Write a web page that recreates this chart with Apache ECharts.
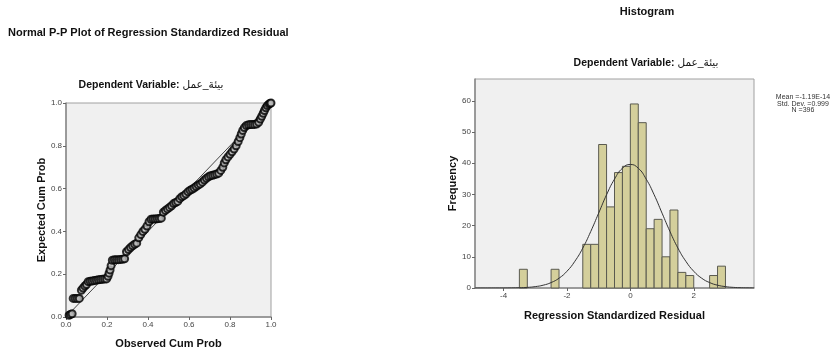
<!DOCTYPE html>
<html><head><meta charset="utf-8">
<script src="https://cdn.jsdelivr.net/npm/echarts@6/dist/echarts.min.js"></script>
<style>html,body{margin:0;padding:0;background:#fff}#c{width:835px;height:354px}</style>
</head><body><div id="c"></div>
<script>
// P-P plot points (observed cum prob, expected cum prob)
const ppObserved = [0.015,0.022,0.03,0.035,0.045,0.055,0.065,0.075,0.083,0.092,0.10,
  0.108,0.118,0.128,0.138,0.148,0.158,0.168,0.178,0.188,0.198,
  0.205,0.21,0.215,0.22,0.226,0.236,0.246,0.256,0.266,0.276,0.286,
  0.295,0.305,0.315,0.325,0.335,0.345,0.355,0.365,0.375,0.385,0.395,0.405,
  0.415,0.425,0.435,0.445,0.455,0.465,
  0.475,0.485,0.495,0.505,0.515,0.525,0.535,0.545,0.555,0.565,0.575,0.585,0.595,0.605,0.615,0.625,0.635,0.645,0.655,0.665,0.675,0.685,0.695,0.705,0.715,0.725,0.735,0.745,0.755,0.765,0.772,0.78,0.79,0.80,0.81,0.82,0.83,0.84,0.848,0.855,0.862,0.87,0.88,0.89,0.90,0.91,0.92,0.93,0.94,0.948,0.955,0.962,0.968,0.975,0.982,0.99,0.996,1.0];
const ppExpected = [0.008,0.012,0.015,0.087,0.087,0.087,0.087,0.125,0.135,0.145,0.152,
  0.165,0.167,0.168,0.17,0.172,0.174,0.175,0.176,0.177,0.178,
  0.19,0.205,0.22,0.24,0.265,0.267,0.268,0.268,0.269,0.27,0.272,
  0.305,0.315,0.325,0.333,0.34,0.345,0.37,0.385,0.40,0.41,0.425,0.445,
  0.457,0.458,0.458,0.459,0.46,0.462,
  0.49,0.498,0.505,0.512,0.52,0.53,0.535,0.54,0.553,0.562,0.567,0.575,0.585,0.592,0.597,0.603,0.61,0.617,0.622,0.63,0.64,0.648,0.655,0.66,0.662,0.665,0.668,0.672,0.685,0.70,0.72,0.735,0.748,0.76,0.772,0.785,0.80,0.82,0.838,0.855,0.872,0.885,0.895,0.898,0.899,0.899,0.90,0.902,0.91,0.925,0.938,0.952,0.965,0.978,0.988,0.995,0.998,1.0];

// Histogram bins (start of bin) and frequencies
const binStarts = [-3.5,-2.5,-1.5,-1.25,-1,-0.75,-0.5,-0.25,0,0.25,0.5,0.75,1,1.25,1.5,1.75,2.5,2.75];
const binCounts = [6,6,14,14,46,26,37,39,59,53,19,22,10,25,5,4,4,7];
const binWidth = 0.25;

// Normal curve
const curveX = [-4.9,-4.5,-4.25,-4,-3.75,-3.5,-3.25,-3,-2.75,-2.5,-2.25,-2,-1.75,-1.5,-1.25,-1,-0.75,-0.5,-0.25,0,0.25,0.5,0.75,1,1.25,1.5,1.75,2,2.25,2.5,2.75,3,3.25,3.5,3.75,3.9];
const curveY = [0,0,0.01,0.01,0.04,0.09,0.2,0.44,0.9,1.74,3.14,5.36,8.57,12.8,18.1,24.0,29.9,34.9,38.4,39.6,38.4,34.9,29.9,24.0,18.1,12.8,8.57,5.36,3.14,1.74,0.9,0.44,0.2,0.09,0.04,0.02];
const histXTicks = [-4, -2, 0, 2];
const histYTicks = [0, 10, 20, 30, 40, 50, 60];

const titleMain = 'Normal P-P Plot of Regression Standardized Residual';
const titleHist = 'Histogram';
const depLabel = 'Dependent Variable: ';
const depVar = 'بيئة_عمل';
const statsText = ['Mean =-1.19E-14', 'Std. Dev. =0.999', 'N =396'];

const FONT = "'Liberation Sans', Arial, 'DejaVu Sans', sans-serif";

const chart = echarts.init(document.getElementById('c'), null, {renderer: 'canvas'});

function axisCommon() {
  return {
    axisLine: {show: true, onZero: false, lineStyle: {color: '#8a8a8a', width: 1.5}},
    axisTick: {show: true, length: 3, lineStyle: {color: '#666'}},
    axisLabel: {fontSize: 8, color: '#444', fontFamily: FONT, margin: 4},
    splitLine: {show: false},
    nameLocation: 'middle',
    nameTextStyle: {fontSize: 11, fontWeight: 'bold', color: '#111', fontFamily: FONT}
  };
}

const option = {
  animation: false,
  backgroundColor: '#ffffff',
  grid: [
    {left: 66, top: 103, width: 205, height: 216, show: true, backgroundColor: '#f0f0f0', borderColor: '#a0a0a0', borderWidth: 1},
    {left: 475, top: 79, width: 279, height: 209, show: true, backgroundColor: '#f0f0f0', borderColor: '#a0a0a0', borderWidth: 1}
  ],
  xAxis: [
    Object.assign(axisCommon(), {
      type: 'value', gridIndex: 0, min: 0, max: 1, interval: 0.2,
      name: 'Observed Cum Prob', nameGap: 21,
      axisLabel: {fontSize: 8, color: '#444', fontFamily: FONT, margin: 4, formatter: v => v.toFixed(1)}
    }),
    Object.assign(axisCommon(), {
      type: 'value', gridIndex: 1, min: -4.9, max: 3.9,
      name: 'Regression Standardized Residual', nameGap: 22,
      axisTick: {show: true, length: 3, lineStyle: {color: '#666'}, customValues: histXTicks},
      axisLabel: {fontSize: 8, color: '#444', fontFamily: FONT, margin: 4, customValues: histXTicks}
    })
  ],
  yAxis: [
    Object.assign(axisCommon(), {
      type: 'value', gridIndex: 0, min: 0, max: 1, interval: 0.2,
      name: 'Expected Cum Prob', nameGap: 17,
      axisLabel: {fontSize: 8, color: '#444', fontFamily: FONT, margin: 4, formatter: v => v.toFixed(1)}
    }),
    Object.assign(axisCommon(), {
      type: 'value', gridIndex: 1, min: 0, max: 67,
      name: 'Frequency', nameGap: 14,
      axisTick: {show: true, length: 3, lineStyle: {color: '#666'}, customValues: histYTicks},
      axisLabel: {fontSize: 8, color: '#444', fontFamily: FONT, margin: 4, customValues: histYTicks}
    })
  ],
  series: [
    {
      type: 'line', xAxisIndex: 0, yAxisIndex: 0, data: [[0, 0], [1, 1]],
      symbol: 'none', lineStyle: {color: '#444', width: 1}, z: 2, silent: true
    },
    {
      type: 'scatter', xAxisIndex: 0, yAxisIndex: 0,
      data: ppObserved.map((o, i) => [o, ppExpected[i]]),
      symbol: 'circle', symbolSize: 7,
      itemStyle: {color: '#bdbdbd', borderColor: '#000', borderWidth: 2},
      z: 3, silent: true
    },
    {
      type: 'custom', xAxisIndex: 1, yAxisIndex: 1,
      data: binStarts.map((s, i) => [s, s + binWidth, binCounts[i]]),
      encode: {x: [0, 1], y: 2},
      renderItem: function (params, api) {
        const p0 = api.coord([api.value(0), api.value(2)]);
        const p1 = api.coord([api.value(1), 0]);
        return {
          type: 'rect',
          shape: {x: p0[0], y: p0[1], width: p1[0] - p0[0], height: p1[1] - p0[1]},
          style: {fill: '#d4cf9b', stroke: '#5a5a50', lineWidth: 1}
        };
      },
      z: 2, silent: true
    },
    {
      type: 'line', xAxisIndex: 1, yAxisIndex: 1,
      data: curveX.map((x, i) => [x, curveY[i]]),
      smooth: true, symbol: 'none', lineStyle: {color: '#333', width: 1}, z: 3, silent: true
    }
  ],
  graphic: [
    {type: 'text', x: 8, y: 33, style: {text: titleMain, font: 'bold 11px ' + FONT, fill: '#111', align: 'left', verticalAlign: 'middle'}},
    {type: 'text', x: 647, y: 12, style: {text: titleHist, font: 'bold 11px ' + FONT, fill: '#111', align: 'center', verticalAlign: 'middle'}},
    {type: 'text', x: 151, y: 85, style: {
      text: '{b|' + depLabel + '}{a|' + depVar + '}', align: 'center', verticalAlign: 'middle',
      rich: {b: {font: 'bold 10.5px ' + FONT, fill: '#111'}, a: {font: '10.5px ' + FONT, fill: '#111'}}
    }},
    {type: 'text', x: 646, y: 63, style: {
      text: '{b|' + depLabel + '}{a|' + depVar + '}', align: 'center', verticalAlign: 'middle',
      rich: {b: {font: 'bold 10.5px ' + FONT, fill: '#111'}, a: {font: '10.5px ' + FONT, fill: '#111'}}
    }},
    {type: 'text', x: 803, y: 104, style: {
      text: statsText.join('\n'), font: '7px ' + FONT, fill: '#333', align: 'center', verticalAlign: 'middle', lineHeight: 6.5
    }}
  ]
};
chart.setOption(option);
</script>
</body></html>
